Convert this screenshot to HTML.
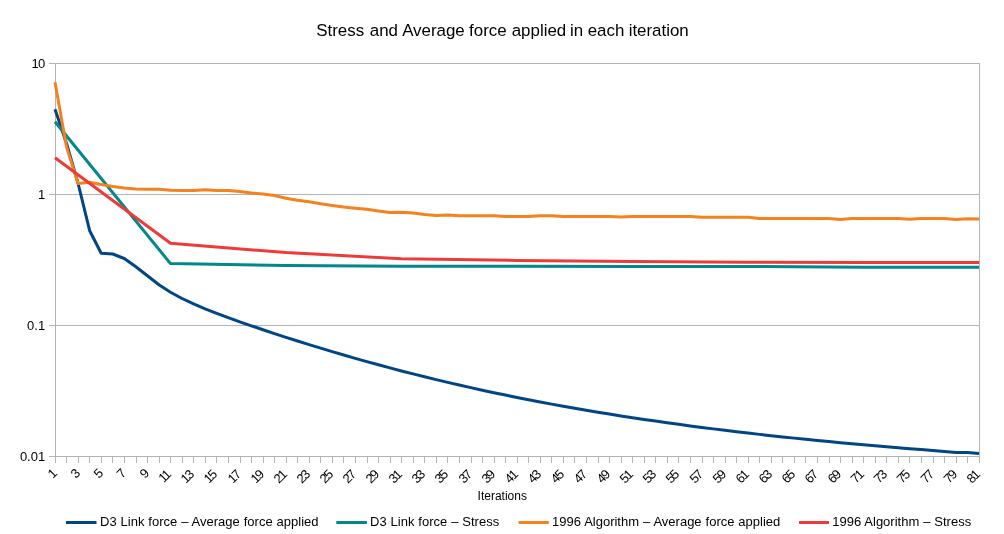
<!DOCTYPE html>
<html lang="en"><head><meta charset="utf-8"><title>Stress and Average force applied in each iteration</title>
<style>html,body{margin:0;padding:0;background:#fff}body{width:1004px;height:534px;overflow:hidden}</style></head>
<body>
<svg width="1004" height="534" viewBox="0 0 1004 534" style="display:block;font-family:'Liberation Sans',Arial,sans-serif">
<rect width="1004" height="534" fill="#fff"/>
<path d="M49 63.5H980 M49 194.5H980 M49 325.5H980 M49 456.5H980 M55.5 63V456 M979.5 63V463 M55.5 456V463 M66.5 456V463 M78.5 456V463 M89.5 456V463 M101.5 456V463 M112.5 456V463 M124.5 456V463 M136.5 456V463 M147.5 456V463 M159.5 456V463 M170.5 456V463 M182.5 456V463 M193.5 456V463 M205.5 456V463 M216.5 456V463 M228.5 456V463 M240.5 456V463 M251.5 456V463 M263.5 456V463 M274.5 456V463 M286.5 456V463 M297.5 456V463 M309.5 456V463 M320.5 456V463 M332.5 456V463 M343.5 456V463 M355.5 456V463 M367.5 456V463 M378.5 456V463 M390.5 456V463 M401.5 456V463 M413.5 456V463 M424.5 456V463 M436.5 456V463 M447.5 456V463 M459.5 456V463 M471.5 456V463 M482.5 456V463 M494.5 456V463 M505.5 456V463 M517.5 456V463 M528.5 456V463 M540.5 456V463 M551.5 456V463 M563.5 456V463 M574.5 456V463 M586.5 456V463 M598.5 456V463 M609.5 456V463 M621.5 456V463 M632.5 456V463 M644.5 456V463 M655.5 456V463 M667.5 456V463 M678.5 456V463 M690.5 456V463 M702.5 456V463 M713.5 456V463 M725.5 456V463 M736.5 456V463 M748.5 456V463 M759.5 456V463 M771.5 456V463 M782.5 456V463 M794.5 456V463 M805.5 456V463 M817.5 456V463 M829.5 456V463 M840.5 456V463 M852.5 456V463 M863.5 456V463 M875.5 456V463 M886.5 456V463 M898.5 456V463 M909.5 456V463 M921.5 456V463 M933.5 456V463 M944.5 456V463 M956.5 456V463 M967.5 456V463 M979.5 456V463" stroke="#b3b3b3" stroke-width="1" fill="none"/>
<polyline points="55.00,109.20 66.55,143.50 78.10,183.50 89.65,230.70 101.20,253.20 112.75,254.00 124.30,258.50 135.85,266.70 147.40,275.70 158.95,284.70 170.50,292.20 182.05,298.49 193.60,303.91 205.15,308.80 216.70,313.34 228.25,317.65 239.80,321.79 251.35,325.81 262.90,329.72 274.45,333.55 286.00,337.31 297.55,340.99 309.10,344.60 320.65,348.14 332.20,351.61 343.75,355.01 355.30,358.34 366.85,361.59 378.40,364.78 389.95,367.89 401.50,370.93 413.05,373.90 424.60,376.79 436.15,379.61 447.70,382.36 459.25,385.05 470.80,387.66 482.35,390.20 493.90,392.68 505.45,395.09 517.00,397.44 528.55,399.72 540.10,401.95 551.65,404.11 563.20,406.21 574.75,408.26 586.30,410.25 597.85,412.19 609.40,414.07 620.95,415.90 632.50,417.69 644.05,419.42 655.60,421.10 667.15,422.74 678.70,424.34 690.25,425.89 701.80,427.40 713.35,428.87 724.90,430.30 736.45,431.69 748.00,433.05 759.55,434.37 771.10,435.65 782.65,436.90 794.20,438.12 805.75,439.30 817.30,440.46 828.85,441.58 840.40,442.68 851.95,443.75 863.50,444.79 875.05,445.80 886.60,446.79 898.15,447.76 909.70,448.70 921.25,449.62 932.80,450.52 944.35,451.40 955.90,452.50 967.45,452.60 979.00,453.60" fill="none" stroke="#004586" stroke-width="3" stroke-linejoin="round" stroke-linecap="butt"/>
<polyline points="55.00,121.80 170.50,263.60 286.00,265.40 401.50,266.20 517.00,266.30 632.50,266.40 748.00,266.50 863.50,267.30 979.00,267.30" fill="none" stroke="#03878a" stroke-width="3" stroke-linejoin="round" stroke-linecap="butt"/>
<polyline points="55.00,82.20 66.55,147.00 78.10,183.50 89.65,182.30 101.20,184.40 112.75,186.50 124.30,188.00 135.85,189.00 147.40,189.20 158.95,189.20 170.50,190.20 182.05,190.40 193.60,190.50 205.15,189.70 216.70,190.40 228.25,190.40 239.80,191.50 251.35,193.00 262.90,194.00 274.45,195.50 286.00,198.20 297.55,200.20 309.10,201.70 320.65,203.80 332.20,205.50 343.75,207.00 355.30,208.20 366.85,209.20 378.40,210.90 389.95,212.50 401.50,212.20 413.05,213.10 424.60,214.50 436.15,215.40 447.70,214.90 459.25,215.70 470.80,215.70 482.35,215.70 493.90,215.70 505.45,216.40 517.00,216.40 528.55,216.40 540.10,215.70 551.65,215.70 563.20,216.40 574.75,216.40 586.30,216.40 597.85,216.40 609.40,216.40 620.95,217.10 632.50,216.40 644.05,216.40 655.60,216.40 667.15,216.40 678.70,216.40 690.25,216.40 701.80,217.20 713.35,217.20 724.90,217.20 736.45,217.20 748.00,217.20 759.55,218.40 771.10,218.50 782.65,218.50 794.20,218.50 805.75,218.50 817.30,218.50 828.85,218.50 840.40,219.40 851.95,218.50 863.50,218.50 875.05,218.50 886.60,218.50 898.15,218.50 909.70,219.30 921.25,218.50 932.80,218.50 944.35,218.50 955.90,219.40 967.45,218.70 979.00,219.00" fill="none" stroke="#f5811f" stroke-width="3" stroke-linejoin="round" stroke-linecap="butt"/>
<polyline points="55.00,157.70 170.50,243.30 286.00,252.60 401.50,258.80 517.00,260.40 632.50,261.40 748.00,262.30 863.50,262.40 979.00,262.40" fill="none" stroke="#ed3b3a" stroke-width="3" stroke-linejoin="round" stroke-linecap="butt"/>
<text x="502.5" y="36" font-size="16.9" text-anchor="middle" fill="#000">Stress<tspan dx="1"> and</tspan><tspan dx="0.4"> Average</tspan><tspan dx="-0.4"> force</tspan><tspan dx="0.4"> applied</tspan><tspan dx="-1"> in</tspan> each<tspan dx="-0.4"> iteration</tspan></text>
<text x="44.4" y="68.2" font-size="13" text-anchor="end" letter-spacing="-0.8" fill="#000">10</text>
<text x="45.2" y="199.2" font-size="13" text-anchor="end" fill="#000">1</text>
<text x="45.2" y="330.2" font-size="13" text-anchor="end" fill="#000">0.1</text>
<text x="45.2" y="461.2" font-size="13" text-anchor="end" fill="#000">0.01</text>
<text transform="translate(58.2,474.0) rotate(-45)" font-size="13" text-anchor="end" letter-spacing="0" fill="#000">1</text>
<text transform="translate(81.2,474.0) rotate(-45)" font-size="13" text-anchor="end" letter-spacing="0" fill="#000">3</text>
<text transform="translate(104.2,474.0) rotate(-45)" font-size="13" text-anchor="end" letter-spacing="0" fill="#000">5</text>
<text transform="translate(127.2,474.0) rotate(-45)" font-size="13" text-anchor="end" letter-spacing="0" fill="#000">7</text>
<text transform="translate(150.2,474.0) rotate(-45)" font-size="13" text-anchor="end" letter-spacing="0" fill="#000">9</text>
<text transform="translate(171.0,476.0) rotate(-45)" font-size="13" text-anchor="end" letter-spacing="-1.6" fill="#000">11</text>
<text transform="translate(194.0,476.0) rotate(-45)" font-size="13" text-anchor="end" letter-spacing="-1.6" fill="#000">13</text>
<text transform="translate(217.0,476.0) rotate(-45)" font-size="13" text-anchor="end" letter-spacing="-1.6" fill="#000">15</text>
<text transform="translate(241.0,476.0) rotate(-45)" font-size="13" text-anchor="end" letter-spacing="-1.6" fill="#000">17</text>
<text transform="translate(264.0,476.0) rotate(-45)" font-size="13" text-anchor="end" letter-spacing="-1.6" fill="#000">19</text>
<text transform="translate(287.0,476.0) rotate(-45)" font-size="13" text-anchor="end" letter-spacing="-1.6" fill="#000">21</text>
<text transform="translate(310.0,476.0) rotate(-45)" font-size="13" text-anchor="end" letter-spacing="-1.6" fill="#000">23</text>
<text transform="translate(333.0,476.0) rotate(-45)" font-size="13" text-anchor="end" letter-spacing="-1.6" fill="#000">25</text>
<text transform="translate(356.0,476.0) rotate(-45)" font-size="13" text-anchor="end" letter-spacing="-1.6" fill="#000">27</text>
<text transform="translate(379.0,476.0) rotate(-45)" font-size="13" text-anchor="end" letter-spacing="-1.6" fill="#000">29</text>
<text transform="translate(402.0,476.0) rotate(-45)" font-size="13" text-anchor="end" letter-spacing="-1.6" fill="#000">31</text>
<text transform="translate(425.0,476.0) rotate(-45)" font-size="13" text-anchor="end" letter-spacing="-1.6" fill="#000">33</text>
<text transform="translate(448.0,476.0) rotate(-45)" font-size="13" text-anchor="end" letter-spacing="-1.6" fill="#000">35</text>
<text transform="translate(472.0,476.0) rotate(-45)" font-size="13" text-anchor="end" letter-spacing="-1.6" fill="#000">37</text>
<text transform="translate(495.0,476.0) rotate(-45)" font-size="13" text-anchor="end" letter-spacing="-1.6" fill="#000">39</text>
<text transform="translate(518.0,476.0) rotate(-45)" font-size="13" text-anchor="end" letter-spacing="-1.6" fill="#000">41</text>
<text transform="translate(541.0,476.0) rotate(-45)" font-size="13" text-anchor="end" letter-spacing="-1.6" fill="#000">43</text>
<text transform="translate(564.0,476.0) rotate(-45)" font-size="13" text-anchor="end" letter-spacing="-1.6" fill="#000">45</text>
<text transform="translate(587.0,476.0) rotate(-45)" font-size="13" text-anchor="end" letter-spacing="-1.6" fill="#000">47</text>
<text transform="translate(610.0,476.0) rotate(-45)" font-size="13" text-anchor="end" letter-spacing="-1.6" fill="#000">49</text>
<text transform="translate(633.0,476.0) rotate(-45)" font-size="13" text-anchor="end" letter-spacing="-1.6" fill="#000">51</text>
<text transform="translate(656.0,476.0) rotate(-45)" font-size="13" text-anchor="end" letter-spacing="-1.6" fill="#000">53</text>
<text transform="translate(679.0,476.0) rotate(-45)" font-size="13" text-anchor="end" letter-spacing="-1.6" fill="#000">55</text>
<text transform="translate(703.0,476.0) rotate(-45)" font-size="13" text-anchor="end" letter-spacing="-1.6" fill="#000">57</text>
<text transform="translate(726.0,476.0) rotate(-45)" font-size="13" text-anchor="end" letter-spacing="-1.6" fill="#000">59</text>
<text transform="translate(749.0,476.0) rotate(-45)" font-size="13" text-anchor="end" letter-spacing="-1.6" fill="#000">61</text>
<text transform="translate(772.0,476.0) rotate(-45)" font-size="13" text-anchor="end" letter-spacing="-1.6" fill="#000">63</text>
<text transform="translate(795.0,476.0) rotate(-45)" font-size="13" text-anchor="end" letter-spacing="-1.6" fill="#000">65</text>
<text transform="translate(818.0,476.0) rotate(-45)" font-size="13" text-anchor="end" letter-spacing="-1.6" fill="#000">67</text>
<text transform="translate(841.0,476.0) rotate(-45)" font-size="13" text-anchor="end" letter-spacing="-1.6" fill="#000">69</text>
<text transform="translate(864.0,476.0) rotate(-45)" font-size="13" text-anchor="end" letter-spacing="-1.6" fill="#000">71</text>
<text transform="translate(887.0,476.0) rotate(-45)" font-size="13" text-anchor="end" letter-spacing="-1.6" fill="#000">73</text>
<text transform="translate(910.0,476.0) rotate(-45)" font-size="13" text-anchor="end" letter-spacing="-1.6" fill="#000">75</text>
<text transform="translate(934.0,476.0) rotate(-45)" font-size="13" text-anchor="end" letter-spacing="-1.6" fill="#000">77</text>
<text transform="translate(957.0,476.0) rotate(-45)" font-size="13" text-anchor="end" letter-spacing="-1.6" fill="#000">79</text>
<text transform="translate(980.0,476.0) rotate(-45)" font-size="13" text-anchor="end" letter-spacing="-1.6" fill="#000">81</text>
<text x="502.3" y="499.8" font-size="12" text-anchor="middle" fill="#000">Iterations</text>
<path d="M66.0 522.5H96.5" stroke="#004586" stroke-width="3"/>
<text x="100.0" y="526" font-size="13" word-spacing="0.32" fill="#000">D3 Link force – Average force applied</text>
<path d="M336.3 522.5H366.9" stroke="#03878a" stroke-width="3"/>
<text x="370.0" y="526" font-size="13" word-spacing="0.32" fill="#000">D3 Link force – Stress</text>
<path d="M518.6 522.5H548.8" stroke="#f5811f" stroke-width="3"/>
<text x="552.0" y="526" font-size="13" word-spacing="0.32" fill="#000">1996 Algorithm – Average force applied</text>
<path d="M799.0 522.5H829.0" stroke="#ed3b3a" stroke-width="3"/>
<text x="832.2" y="526" font-size="13" word-spacing="0.32" fill="#000">1996 Algorithm – Stress</text>
</svg>
</body></html>
